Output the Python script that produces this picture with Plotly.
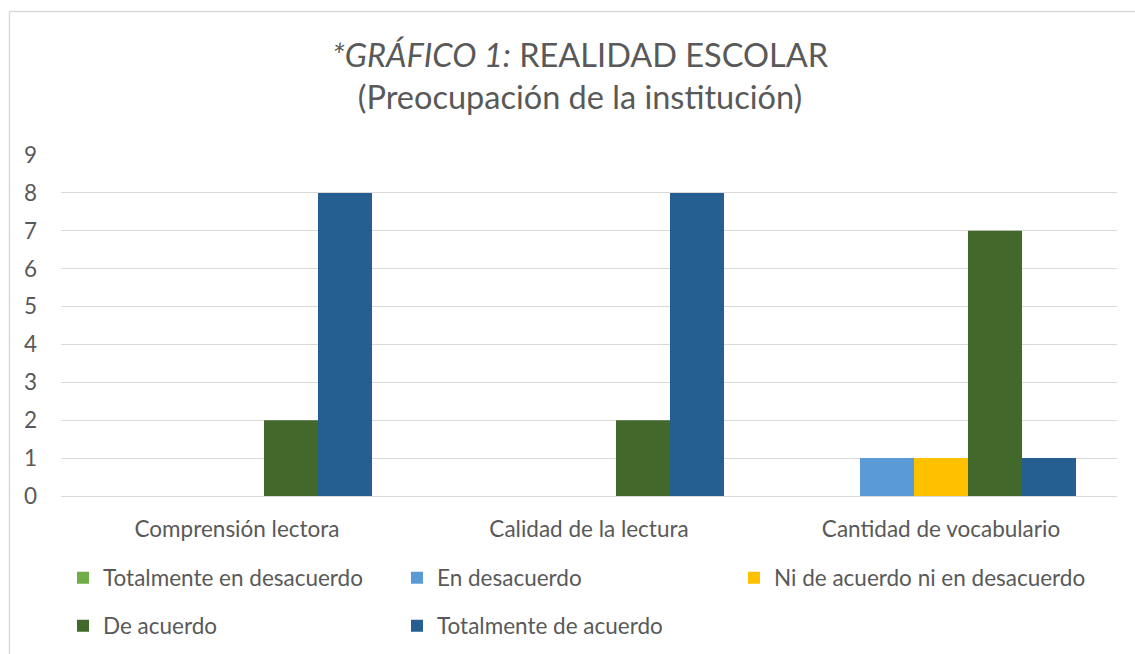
import plotly.graph_objects as go

categories = ["Comprensión lectora", "Calidad de la lectura", "Cantidad de vocabulario"]
series_names = ["Totalmente en desacuerdo", "En desacuerdo", "Ni de acuerdo ni en desacuerdo",
                "De acuerdo", "Totalmente de acuerdo"]
totalmente_desacuerdo = [0, 0, 0]
en_desacuerdo = [0, 0, 1]
ni_ni = [0, 0, 1]
de_acuerdo = [2, 2, 7]
totalmente_acuerdo = [8, 8, 1]
series_values = [totalmente_desacuerdo, en_desacuerdo, ni_ni, de_acuerdo, totalmente_acuerdo]
colors = ["#70AD47", "#5B9BD5", "#FFC000", "#43682B", "#255E91"]
y_ticks = [0, 1, 2, 3, 4, 5, 6, 7, 8, 9]

W, H = 1135, 654
L, R, T, B = 61, 18, 155, 158
PW, PH = W - L - R, H - T - B

def px_x(p):
    return (p - L) / PW

def px_y(p):
    return (H - B - p) / PH

FONT = "Lato, 'Open Sans', sans-serif"
GRAY = "#595959"

# legend item placement (pixel position of text start, row centre)
legend_pos = [(104, 578), (438, 578), (775, 578), (104, 626), (438, 626)]

fig = go.Figure()
layout_legends = {}
for i, (name, vals, col) in enumerate(zip(series_names, series_values, colors)):
    key = "legend" if i == 0 else f"legend{i + 1}"
    fig.add_trace(go.Bar(
        x=categories, y=vals, name=name,
        marker=dict(color=col, line=dict(width=0)),
        legend=key,
    ))
    tx, ty = legend_pos[i]
    layout_legends[key] = dict(
        x=(tx - 41) / W, y=1 - ty / H, xref="container", yref="container",
        xanchor="left", yanchor="middle",
        orientation="h", font=dict(family=FONT, size=22.5, color=GRAY),
        bgcolor="rgba(0,0,0,0)", itemwidth=30,
    )

fig.update_layout(
    width=W, height=H,
    margin=dict(l=L, r=R, t=T, b=B, pad=0),
    paper_bgcolor="white", plot_bgcolor="white",
    barmode="group", bargap=0.233, bargroupgap=0,
    font=dict(family=FONT, color=GRAY),
    title=dict(
        text="<i>*GRÁFICO 1:</i> REALIDAD ESCOLAR<br>(Preocupación de la institución)",
        x=580 / W, xanchor="center", xref="container",
        y=1 - 67 / H, yanchor="middle", yref="container",
        font=dict(family=FONT, size=32.5, color=GRAY),
    ),
    xaxis=dict(
        showgrid=False, showline=False, zeroline=False,
        tickfont=dict(family=FONT, size=22.5, color=GRAY),
        ticks="", ticklabelstandoff=17,
    ),
    yaxis=dict(
        range=[0, 9], tickvals=y_ticks,
        showgrid=True, gridcolor="#D9D9D9", gridwidth=1.3,
        zeroline=True, zerolinecolor="#D9D9D9", zerolinewidth=1.3,
        showline=False, ticks="",
        tickfont=dict(family=FONT, size=22.5, color=GRAY),
        ticklabelstandoff=23,
    ),
    showlegend=True,
    **layout_legends,
)

# outer chart border (top and left edges visible in reference)
fig.add_shape(type="line", xref="paper", yref="paper",
              x0=px_x(9.5), x1=px_x(W + 5), y0=px_y(11.5), y1=px_y(11.5),
              line=dict(color="#D9D9D9", width=1.5))
fig.add_shape(type="line", xref="paper", yref="paper",
              x0=px_x(9.5), x1=px_x(9.5), y0=px_y(11.5), y1=px_y(H + 5),
              line=dict(color="#D9D9D9", width=1.5))

fig.write_html("out.html", config={"displayModeBar": False},
               post_script="document.body.style.margin='0';")
